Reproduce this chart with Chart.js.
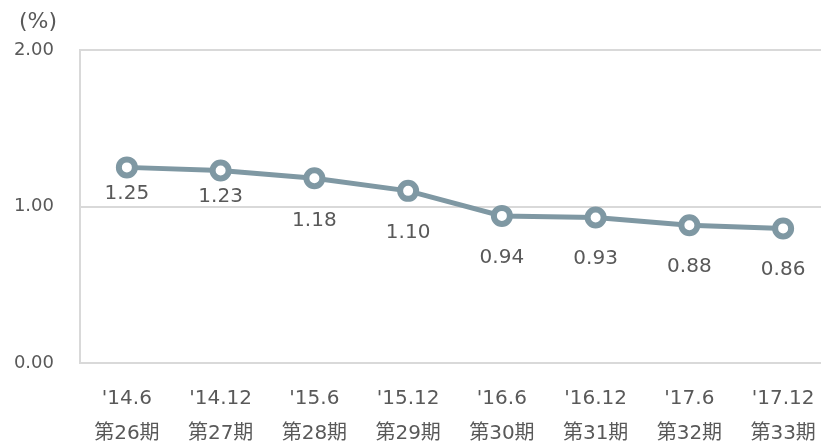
<!DOCTYPE html>
<html>
<head>
<meta charset="utf-8">
<script src="https://cdn.jsdelivr.net/npm/chart.js@4/dist/chart.umd.min.js"></script>
<style>
  html, body { margin: 0; padding: 0; background: #fff; overflow: hidden; }
  canvas { display: block; }
</style>
</head>
<body>
<canvas id="c" width="844" height="442"></canvas>
<script>
// Period labels (two lines each: month and fiscal term)
const periods = ["'14.6", "'14.12", "'15.6", "'15.12", "'16.6", "'16.12", "'17.6", "'17.12"];
const terms = ["第26期", "第27期", "第28期", "第29期", "第30期", "第31期", "第32期", "第33期"];
// Ratio (%) per period
const ratios = [1.25, 1.23, 1.18, 1.10, 0.94, 0.93, 0.88, 0.86];
// Y axis ticks
const yTicks = [0, 1, 2];
// Vertical gap (px) between each point and its value label
const labelGap = [26, 26, 42, 42, 42, 41, 42, 41];

const TEXT = '#595959';
const LINE = '#7f98a3';
const GRID = '#d9d9d9';
const FONT = '"DejaVu Sans", "Noto Sans CJK JP", sans-serif';

const valueLabels = {
  id: 'valueLabels',
  afterDatasetsDraw(chart) {
    const ctx = chart.ctx;
    const meta = chart.getDatasetMeta(0);
    ctx.save();
    ctx.font = '20px ' + FONT;
    ctx.fillStyle = TEXT;
    ctx.textAlign = 'center';
    ctx.textBaseline = 'middle';
    meta.data.forEach((pt, i) => {
      ctx.fillText(ratios[i].toFixed(2), pt.x, pt.y + labelGap[i]);
    });
    ctx.restore();
  }
};

const unitLabel = {
  id: 'unitLabel',
  afterDraw(chart) {
    const ctx = chart.ctx;
    ctx.save();
    ctx.font = '22px ' + FONT;
    ctx.fillStyle = TEXT;
    ctx.textAlign = 'center';
    ctx.textBaseline = 'middle';
    ctx.fillText('(%)', 38, chart.chartArea.top - 28);
    ctx.restore();
  }
};

new Chart(document.getElementById('c'), {
  type: 'line',
  data: {
    labels: periods.map((p, i) => [p, terms[i]]),
    datasets: [{
      data: ratios,
      borderColor: LINE,
      borderWidth: 5,
      pointRadius: 8,
      pointBorderWidth: 6,
      pointBackgroundColor: '#ffffff',
      pointBorderColor: LINE,
      tension: 0,
      clip: false
    }]
  },
  options: {
    responsive: false,
    animation: false,
    devicePixelRatio: 1,
    layout: { padding: { top: 50, right: 0, bottom: 0, left: 0 } },
    plugins: { legend: { display: false }, tooltip: { enabled: false } },
    scales: {
      x: {
        offset: true,
        grid: { display: false, drawTicks: false },
        border: { display: false },
        ticks: {
          color: TEXT,
          font: { family: FONT, size: 20, lineHeight: 1.75 },
          padding: 18,
          maxRotation: 0,
          autoSkip: false
        },
        afterFit(scale) { scale.height = 79; }
      },
      y: {
        min: 0,
        max: 2,
        afterBuildTicks(scale) { scale.ticks = yTicks.map(v => ({ value: v })); },
        grid: { color: GRID, lineWidth: 2, drawTicks: false },
        border: { display: true, color: GRID, width: 2 },
        ticks: {
          color: TEXT,
          font: { family: FONT, size: 18 },
          padding: 26,
          callback: v => Number(v).toFixed(2)
        },
        afterFit(scale) { scale.width = 80; }
      }
    }
  },
  plugins: [valueLabels, unitLabel]
});
</script>
</body>
</html>
